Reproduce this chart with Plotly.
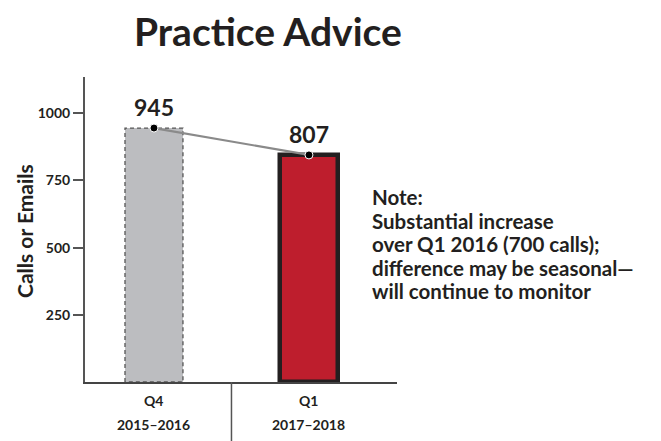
import plotly.graph_objects as go

title = "Practice Advice"
quarters = ["Q4", "Q1"]
years = ["2015–2016", "2017–2018"]
bar_heights = [945, 845]          # heights as drawn in the picture
value_labels = ["945", "807"]     # labels as printed
y_ticks = [250, 500, 750, 1000]
note_lines = ["Note:", "Substantial increase", "over Q1 2016 (700 calls);",
              "difference may be seasonal—", "will continue to monitor"]
y_title = "Calls or Emails"

FONT = "Lato"
DARK = "#231f20"
W = 0.374
xs = list(range(len(quarters)))

PL, PR, PT, PB = 85, 397, 77, 382


def px(x):
    return (x - PL) / (PR - PL)


def py(y):
    return (PB - y) / (PB - PT)


fig = go.Figure()

fig.add_trace(go.Bar(x=[xs[0]], y=[bar_heights[0]], width=W,
                     marker=dict(color="#bcbdc0", line=dict(width=0)),
                     showlegend=False, hoverinfo="skip"))
fig.add_trace(go.Bar(x=[xs[1]], y=[bar_heights[1]], width=W,
                     marker=dict(color="#be1e2d", line=dict(color=DARK, width=4.5)),
                     showlegend=False, hoverinfo="skip"))

x0, v0 = xs[0], bar_heights[0]
fig.add_trace(go.Scatter(
    x=[x0 - W/2, x0 - W/2, x0 + W/2, x0 + W/2, x0 - W/2],
    y=[0, v0, v0, 0, 0], mode="lines",
    line=dict(color="#555555", width=1.3, dash="4px,3px"),
    showlegend=False, hoverinfo="skip"))

fig.add_trace(go.Scatter(x=xs, y=bar_heights, mode="lines+markers",
                         line=dict(color="#8a8a8a", width=2.2),
                         marker=dict(color="black", size=8, line=dict(color="white", width=1)),
                         showlegend=False, hoverinfo="skip"))

annotations = []
for x, v, lab in zip(xs, bar_heights, value_labels):
    annotations.append(dict(x=x, y=v, xref="x", yref="y", text=f"<b>{lab}</b>",
                            showarrow=False, yanchor="middle", yshift=21,
                            font=dict(family=FONT, size=23, color=DARK)))
for x, q, yr in zip(xs, quarters, years):
    annotations.append(dict(x=x, y=0, xref="x", yref="paper", text=f"<b>{q}</b>",
                            showarrow=False, yanchor="middle", yshift=-18,
                            font=dict(family=FONT, size=14, color=DARK)))
    annotations.append(dict(x=x, y=0, xref="x", yref="paper", text=f"<b>{yr}</b>",
                            showarrow=False, yanchor="middle", yshift=-42,
                            font=dict(family=FONT, size=14, color=DARK)))
for i, line in enumerate(note_lines):
    annotations.append(dict(x=px(370), y=py(197 + 23.5*i), xref="paper", yref="paper",
                            xanchor="left", yanchor="middle", showarrow=False,
                            text=f"<b>{line}</b>",
                            font=dict(family=FONT, size=20.5, color=DARK)))
annotations.append(dict(x=px(25), y=py(231), xref="paper", yref="paper",
                        text=f"<b>{y_title}</b>", textangle=-90, showarrow=False,
                        xanchor="center", yanchor="middle",
                        font=dict(family=FONT, size=21, color=DARK)))
annotations.append(dict(x=px(268), y=py(31), xref="paper", yref="paper",
                        text=f"<b>{title}</b>", showarrow=False,
                        xanchor="center", yanchor="middle",
                        font=dict(family=FONT, size=39, color=DARK)))

fig.update_layout(
    width=661, height=441,
    margin=dict(l=PL, r=661 - PR, t=PT, b=441 - PB),
    paper_bgcolor="white", plot_bgcolor="white",
    annotations=annotations,
    shapes=[dict(type="line", xref="x", yref="paper", x0=0.5, x1=0.5, y0=0, y1=py(441),
                 line=dict(color="#555555", width=1.5))],
    xaxis=dict(range=[-0.445, 1.568], showticklabels=False, ticks="",
               showline=True, linecolor="#444444", linewidth=2, showgrid=False, zeroline=False),
    yaxis=dict(range=[0, 1135], tickvals=y_ticks, ticktext=[f"<b>{t}</b>" for t in y_ticks],
               ticks="outside", ticklen=10, tickwidth=1.5, tickcolor="#555555",
               tickfont=dict(family=FONT, size=14, color=DARK),
               showline=True, linecolor="#555555", linewidth=2,
               showgrid=False, zeroline=False),
    bargap=0,
)

fig.write_html("out.html")
